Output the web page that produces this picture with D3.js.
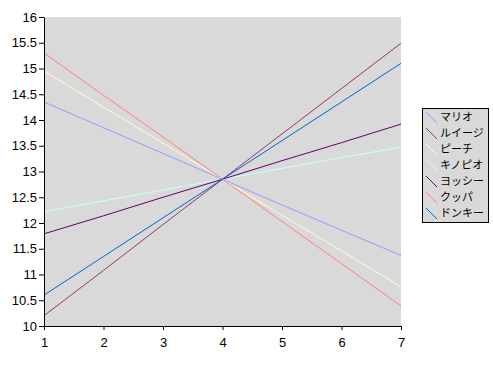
<!DOCTYPE html>
<html>
<head>
<meta charset="utf-8">
<script src="https://cdn.jsdelivr.net/npm/d3@7"></script>
<style>
  body { margin: 0; background: #fff; }
  .axis text { font-family: "Liberation Sans", Arial, sans-serif; font-size: 13px; fill: #000; }
  .axis path, .axis line { stroke: #000; }
  .legend text { font-family: "Noto Sans CJK JP", sans-serif; font-size: 11px; fill: #000; }
</style>
</head>
<body>
<script>
// x categories
var xValues = [1, 2, 3, 4, 5, 6, 7];
var yTicks  = [10, 10.5, 11, 11.5, 12, 12.5, 13, 13.5, 14, 14.5, 15, 15.5, 16];

var names = ["マリオ", "ルイージ", "ピーチ", "キノピオ", "ヨッシー", "クッパ", "ドンキー"];

// series values
var mario   = [14.35, 13.85, 13.35, 12.85, 12.35, 11.86, 11.37];
var luigi   = [10.20, 11.08, 11.97, 12.85, 13.73, 14.61, 15.49];
var peach   = [14.95, 14.25, 13.55, 12.85, 12.15, 11.46, 10.76];
var kinopio = [12.22, 12.43, 12.64, 12.85, 13.06, 13.27, 13.47];
var yoshi   = [11.79, 12.14, 12.50, 12.85, 13.21, 13.56, 13.92];
var koopa   = [15.30, 14.48, 13.67, 12.85, 12.03, 11.21, 10.39];
var donkey  = [10.60, 11.35, 12.10, 12.85, 13.60, 14.35, 15.10];

var colors = ["#9999ff", "#993366", "#ffffcc", "#ccffff", "#660066", "#ff8080", "#0066cc"];

var series = [mario, luigi, peach, kinopio, yoshi, koopa, donkey];

var margin = {left: 44, top: 17, right: 92, bottom: 41};
var W = 493, H = 367;
var width = W - margin.left - margin.right;
var height = H - margin.top - margin.bottom;

var svg = d3.select("body").append("svg")
    .attr("width", W).attr("height", H);

var g = svg.append("g")
    .attr("transform", "translate(" + margin.left + "," + margin.top + ")");

var x = d3.scaleLinear().domain([1, 7]).range([0, width]);
var y = d3.scaleLinear().domain([10, 16]).range([height, 0]);

// plot area
g.append("rect")
    .attr("width", width).attr("height", height)
    .attr("fill", "#d9d9d9");

var line = d3.line()
    .x(function(d, i) { return x(xValues[i]); })
    .y(function(d) { return y(d); });

series.forEach(function(s, i) {
    g.append("path")
        .datum(s)
        .attr("fill", "none")
        .attr("stroke", colors[i])
        .attr("stroke-width", 1)
        .attr("d", line);
});

// axes
g.append("g").attr("class", "axis")
    .call(d3.axisLeft(y).tickValues(yTicks).tickSize(5).tickSizeOuter(0)
        .tickFormat(function(d) { return String(d); }))
    .call(function(a) { a.selectAll("text").attr("dx", "1px"); });

g.append("g").attr("class", "axis")
    .attr("transform", "translate(0," + height + ")")
    .call(d3.axisBottom(x).tickValues(xValues).tickSize(4).tickSizeOuter(0)
        .tickFormat(d3.format("d")))
    .call(function(a) { a.selectAll("text").attr("dy", "1.05em"); });

// legend
var lg = svg.append("g").attr("class", "legend")
    .attr("transform", "translate(422,108)");

lg.append("rect")
    .attr("x", 0.5).attr("y", 0.5)
    .attr("width", 66).attr("height", 114)
    .attr("fill", "#d9d9d9")
    .attr("stroke", "#000");

var item = lg.selectAll(".item").data(names).enter().append("g")
    .attr("class", "item")
    .attr("transform", function(d, i) { return "translate(0," + (9 + i * 16) + ")"; });

item.append("line")
    .attr("x1", 4).attr("y1", -5)
    .attr("x2", 15).attr("y2", 6)
    .attr("stroke", function(d, i) { return colors[i]; });

item.append("text")
    .attr("x", 18).attr("y", 4)
    .text(function(d) { return d; });
</script>
</body>
</html>
